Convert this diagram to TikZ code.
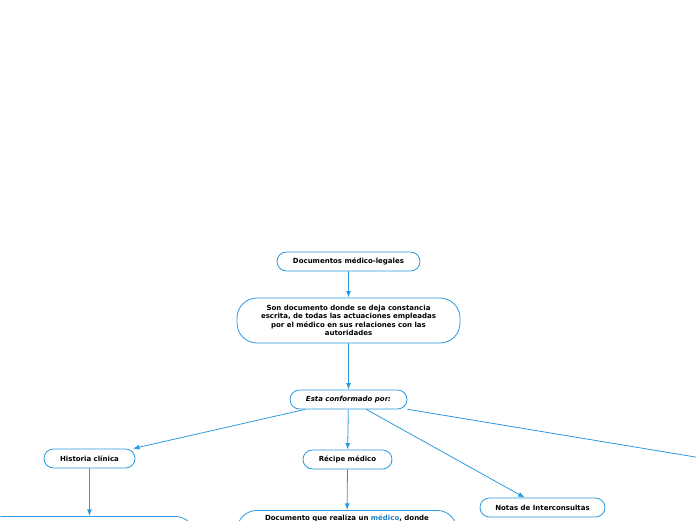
\documentclass[tikz,border=0pt]{standalone}
\usepackage{fontspec}
\setmainfont{DejaVu Sans}
\usetikzlibrary{arrows.meta}

\definecolor{mapblue}{HTML}{2B9AE0}
\definecolor{linkblue}{HTML}{1A7FC4}

\begin{document}
\begin{tikzpicture}[
    x=1pt, y=-1pt,
    >=Latex, % Set default arrow tip style
    topic/.style={draw=mapblue, line width=0.8pt, fill=white, rounded corners=9.5pt,
        minimum height=19pt, inner sep=2pt, align=center,
        font=\fontsize{7}{8.5}\selectfont\bfseries},
    bigtopic/.style={topic, rounded corners=20pt},
    link/.style={->, draw=mapblue, line width=0.8pt}
]

    % Page frame
    \useasboundingbox (0,0) rectangle (696,520);
    \clip (0,0) rectangle (696,520);

    % Main topic and its definition
    \node[topic, minimum width=143pt] (docs) at (348.5,261.5) {Documentos médico-legales};
    \node[bigtopic, minimum width=223pt, minimum height=45pt] (def) at (348.5,320.5)
        {Son documento donde se deja constancia\\escrita, de todas las actuaciones empleadas\\por el médico en sus relaciones con las\\autoridades};
    \node[topic, minimum width=117pt] (parts) at (348.5,399.5) {\itshape Esta conformado por:};

    % Branches
    \node[topic, minimum width=91pt] (historia) at (89.5,458.5) {Historia clínica};
    \node[topic, minimum width=89pt] (recipe) at (347.5,459.5) {Récipe médico};
    \node[topic, minimum width=125pt] (notas) at (542.5,507.5) {Notas de Interconsultas};
    \coordinate (offright) at (840,481);

    % Boxes cut by the lower edge
    \node[bigtopic, anchor=north, minimum width=211pt, minimum height=40pt] (histdef) at (89.5,516) {};
    \node[bigtopic, anchor=north, minimum width=220pt, text depth=30pt, inner ysep=4.5pt] (recdef) at (347,510)
        {Documento que realiza un \textcolor{linkblue}{médico}, donde};

    % Connectors
    \draw[link] (docs) -- (def);
    \draw[link] (def) -- (parts);
    \draw[link] (parts) -- (historia);
    \draw[link] (parts) -- (recipe);
    \draw[link] (parts) -- (notas);
    \draw[link] (parts) -- (offright);
    \draw[link] (historia) -- (histdef);
    \draw[link] (recipe) -- (recdef);

\end{tikzpicture}
\end{document}
